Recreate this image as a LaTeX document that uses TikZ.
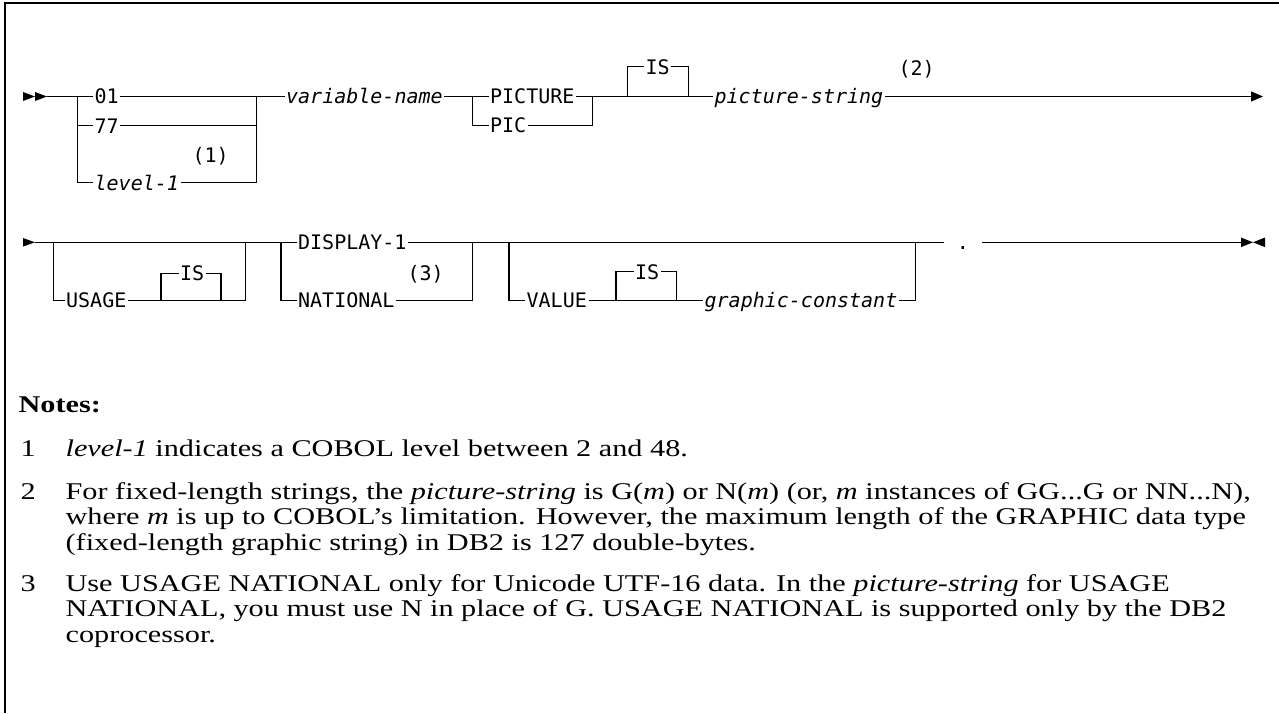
\documentclass[tikz,border=0pt]{standalone}
\usepackage{fontspec}
\setmainfont{Liberation Serif}[FakeStretch=1.26]
\newfontfamily\rrfont{DejaVu Sans Mono}
\usetikzlibrary{arrows.meta}

\begin{document}
\begin{tikzpicture}[x=1pt,y=-1pt,line width=1.3pt,
    kw/.style={font=\rrfont\fontsize{20}{20}\selectfont, anchor=west, inner xsep=1pt, inner ysep=0pt, text height=14.6pt, text depth=0pt},
    var/.style={kw, font=\rrfont\itshape\fontsize{20}{20}\selectfont},
    note/.style={font=\fontsize{24}{25.5}\selectfont, anchor=base west, inner sep=0pt, align=left}]
  \useasboundingbox (0,0) rectangle (1279,713);
  % frame
  \draw[line width=1.5pt] (5,713) -- (5,3) -- (1279,3);

  % first line
  \fill (23,92) -- (35,96.5) -- (23,101) -- cycle;
  \fill (35,92) -- (47,96.5) -- (35,101) -- cycle;
  \coordinate (s1) at (47,96.5);
  \coordinate (a1) at (77.7,96.5);
  \coordinate (a2) at (256.7,96.5);
  \node[kw] (k01) at (93,96.5) {01};
  \node[kw] (k77) at (93,125.7) {77};
  \node[var] (lev) at (93,182.7) {level-1};
  \node[kw] (n1) at (191,155) {(1)};
  \draw (s1) -- (a1) -- (k01) -- (a2);
  \draw (a1) |- (k77) -| (a2);
  \draw (a1) |- (lev) -| (a2);
  \node[var] (vname) at (284.5,96.5) {variable-name};
  \coordinate (a3) at (472.3,96.5);
  \coordinate (a4) at (592.3,96.5);
  \node[kw] (kpicture) at (488.5,96.5) {PICTURE};
  \node[kw] (kpic) at (488.5,125.5) {PIC};
  \draw (a2) -- (vname) -- (a3) -- (kpicture) -- (a4);
  \draw (a3) |- (kpic) -| (a4);
  \coordinate (b1) at (627.7,96.5);
  \coordinate (b2) at (688.3,96.5);
  \node[kw] (is1) at (644,66.7) {IS};
  \draw (a4) -- (b1) -- (b2);
  \draw (b1) |- (is1) -| (b2);
  \node[var] (pstr) at (713,96.5) {picture-string};
  \node[kw] (n2) at (897,68) {(2)};
  \coordinate (e1) at (1263,96.5);
  \draw[-{Triangle[length=12pt,width=10pt]}] (b2) -- (pstr) -- (e1);

  % second line
  \fill (23,238) -- (35,242.3) -- (23,246.6) -- cycle;
  \coordinate (s2) at (35,242.3);
  \coordinate (c1) at (53.3,242.3);
  \coordinate (c2) at (245.7,242.3);
  \coordinate (c3) at (161,300.5);
  \coordinate (c4) at (221,300.5);
  \node[kw] (kusage) at (64.5,300.5) {USAGE};
  \node[kw] (is2) at (178.5,273.3) {IS};
  \draw (s2) -- (c1) -- (c2);
  \draw (c1) |- (kusage) -- (c3) -- (c4) -| (c2);
  \draw (c3) |- (is2) -| (c4);
  \coordinate (d1) at (281,242.3);
  \coordinate (d2) at (472.3,242.3);
  \node[kw] (kdisp) at (296.5,242.3) {DISPLAY-1};
  \node[kw] (knat) at (296.5,300.5) {NATIONAL};
  \node[kw] (n3) at (406,273.3) {(3)};
  \draw (c2) -- (d1) -- (kdisp) -- (d2);
  \draw (d1) |- (knat) -| (d2);
  \coordinate (f1) at (509,242.3);
  \coordinate (f2) at (915.7,242.3);
  \coordinate (g1) at (616,300.3);
  \coordinate (g2) at (676.7,300.3);
  \node[kw] (kval) at (525,300.3) {VALUE};
  \node[kw] (is3) at (633.5,271.7) {IS};
  \node[var] (gcon) at (703,300.3) {graphic-constant};
  \draw (d2) -- (f1) -- (f2);
  \draw (f1) |- (kval) -- (g1) -- (g2) -- (gcon) -| (f2);
  \draw (g1) |- (is3) -| (g2);
  \node[kw, anchor=center, minimum width=37.5pt, inner sep=0pt] (dot) at (963,242.3) {.};
  \coordinate (e2) at (1241,242.3);
  \draw (f2) -- (dot) -- (e2);
  \fill (1241,237.5) -- (1253,242.3) -- (1241,247.1) -- cycle;
  \fill (1265,237.5) -- (1253,242.3) -- (1265,247.1) -- cycle;

  % notes (base = last line)
  \node[note, font=\bfseries\fontsize{24}{25.5}\selectfont] (notes) at (18,412) {Notes:};
  \node[note] (m1) at (20,456) {1};
  \node[note] (t1) at (65,456) {\emph{level-1} indicates a COBOL level between 2 and 48.};
  \node[note] (m2) at (20,499) {2};
  \node[note] (t2) at (65,550) {For fixed-length strings, the \emph{picture-string} is G(\emph{m}) or N(\emph{m}) (or, \emph{m} instances of GG...G or NN...N),\\
    where \emph{m} is up to COBOL's limitation. However, the maximum length of the GRAPHIC data type\\
    (fixed-length graphic string) in DB2 is 127 double-bytes.};
  \node[note] (m3) at (20,591) {3};
  \node[note] (t3) at (65,642) {Use USAGE NATIONAL only for Unicode UTF-16 data. In the \emph{picture-string} for USAGE\\
    NATIONAL, you must use N in place of G. USAGE NATIONAL is supported only by the DB2\\
    coprocessor.};
\end{tikzpicture}
\end{document}
